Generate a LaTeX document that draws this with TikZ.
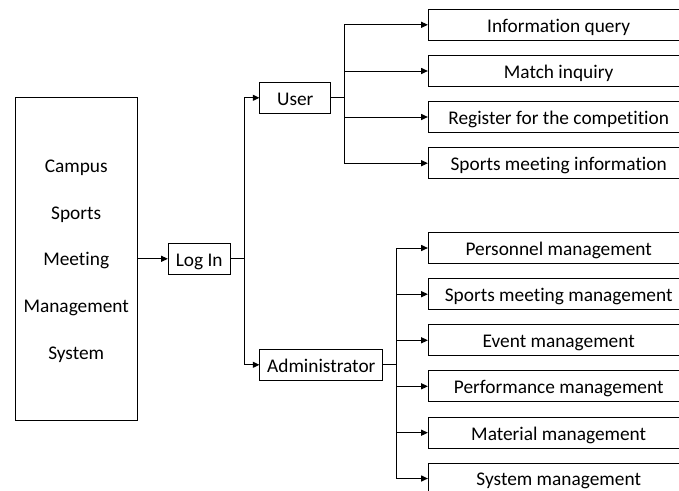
\documentclass[tikz,border=0pt]{standalone}
\usepackage{fontspec}
\setmainfont[Ligatures=NoCommon]{Carlito}
\usetikzlibrary{arrows.meta}
\begin{document}
\begin{tikzpicture}[x=0.75pt,y=-0.75pt,
  box/.style={draw=black,line width=0.75pt,inner sep=0pt,minimum height=23pt,text height=14pt,text depth=2.8pt,font=\fontsize{14.5}{17}\selectfont},
  arr/.style={-{Triangle[length=5pt,width=4.5pt]},line width=0.75pt},
  ln/.style={line width=0.75pt}]
\useasboundingbox (0,0) rectangle (679,490);
\clip (0,0) rectangle (679,490);
\node[draw=black,line width=0.75pt,inner sep=0pt,minimum width=91.7pt,minimum height=242.5pt] (sys) at (76.2,259) {};
\node[align=center,inner sep=0pt,font=\fontsize{14.5}{35}\selectfont] (systext) at (76.2,261) {Campus\\Sports\\Meeting\\Management\\System};
\node[box,minimum width=46.3pt,minimum height=23.25pt] (login) at (199.2,258.8) {Log In};
\node[box,minimum width=53pt,minimum height=23.25pt] (user) at (295.3,97.8) {User};
\node[box,minimum width=92pt,minimum height=23.25pt] (admin) at (321.3,364.8) {Administrator};
\node[box,minimum width=195.5pt] (u1) at (558.7,24.8) {Information query};
\node[box,minimum width=195.5pt] (u2) at (558.7,71) {Match inquiry};
\node[box,minimum width=195.5pt] (u3) at (558.7,117) {Register for the competition};
\node[box,minimum width=195.5pt] (u4) at (558.7,163.2) {Sports meeting information};
\node[box,minimum width=195.5pt] (a1) at (558.7,248) {Personnel management};
\node[box,minimum width=195.5pt] (a2) at (558.7,294.2) {Sports meeting management};
\node[box,minimum width=195.5pt] (a3) at (558.7,340.3) {Event management};
\node[box,minimum width=195.5pt] (a4) at (558.7,386.3) {Performance management};
\node[box,minimum width=195.5pt] (a5) at (558.7,432.7) {Material management};
\node[box,minimum width=195.5pt] (a6) at (558.7,478.5) {System management};
\draw[arr] (sys.east |- login.west) -- (login.west);
\coordinate (lj) at (244,258.8);
\draw[ln] (login.east) -- (lj);
\draw[arr] (lj) |- (user.west);
\draw[arr] (lj) |- (admin.west);
\coordinate (uj) at (344,97.8);
\draw[ln] (user.east) -- (uj);
\foreach \n in {u1,u2,u3,u4} \draw[arr] (uj) |- (\n.west);
\coordinate (aj) at (396,364.8);
\draw[ln] (admin.east) -- (aj);
\foreach \n in {a1,a2,a3,a4,a5,a6} \draw[arr] (aj) |- (\n.west);
\end{tikzpicture}
\end{document}
